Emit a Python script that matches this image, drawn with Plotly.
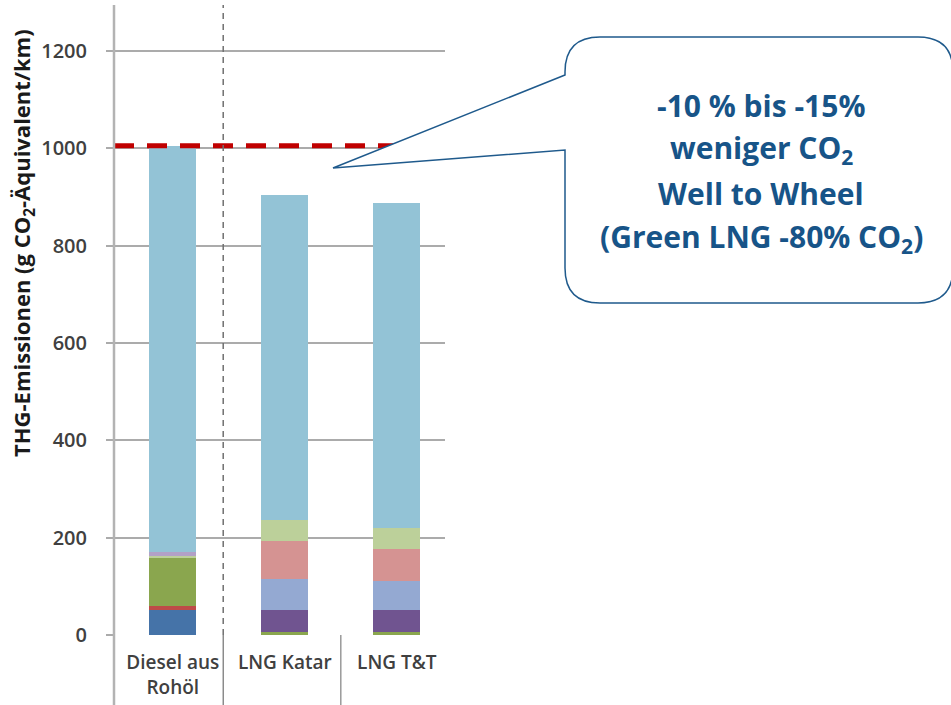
import plotly.graph_objects as go

# ---- data ----
categories = ["Diesel aus<br>Rohöl", "LNG Katar", "LNG T&T"]
seg_dark_blue = [51, 0, 0]
seg_red = [9, 0, 0]
seg_green = [98, 6, 6]
seg_purple = [0, 45, 45]
seg_blue = [0, 64, 60]
seg_pink = [0, 78, 66]
seg_light_green = [5, 44, 43]
seg_lavender = [8, 0, 0]
seg_light_blue = [833, 666, 667]
reference_level = 1005
y_ticks = [0, 200, 400, 600, 800, 1000, 1200]
y_title = "THG-Emissionen (g CO<sub>2</sub>-Äquivalent/km)"
callout_lines = ["-10 % bis -15%", "weniger CO<sub>2</sub>", "Well to Wheel",
                 "(Green LNG -80% CO<sub>2</sub>)"]

series = [
    ("Segment 1", seg_dark_blue, "#4573A8"),
    ("Segment 2", seg_red, "#BE4B48"),
    ("Segment 3", seg_green, "#8AA64E"),
    ("Segment 4", seg_purple, "#705490"),
    ("Segment 5", seg_blue, "#94A9D2"),
    ("Segment 6", seg_pink, "#D59392"),
    ("Segment 7", seg_light_green, "#BCD09A"),
    ("Segment 8", seg_lavender, "#B2A1C7"),
    ("Segment 9", seg_light_blue, "#93C3D6"),
]

W, H = 951, 705
L, R, T, B = 114, 445, 5, 635


def px(x):
    return (x - L) / (R - L)


def py(y):
    return (B - y) / (B - T)


fig = go.Figure()
for name, vals, col in series:
    fig.add_trace(go.Bar(x=categories, y=vals, name=name, width=0.42,
                         marker=dict(color=col, line=dict(width=0))))

grid = "#ABABAB"
shapes = []
# reference dashed red line
shapes.append(dict(type="line", xref="paper", yref="y", x0=0, x1=1,
                   y0=reference_level, y1=reference_level,
                   line=dict(color="#C00000", width=5, dash="20px,13px"), layer="above"))
# vertical axis line extended below
shapes.append(dict(type="line", xref="paper", yref="paper", x0=0, x1=0,
                   y0=py(705), y1=1, line=dict(color="#B3B3B3", width=2.5), layer="above"))
# category separators
shapes.append(dict(type="line", xref="x", yref="paper", x0=0.45, x1=0.45,
                   y0=0, y1=1, line=dict(color="#707070", width=1.5, dash="6px,5px"), layer="above"))
shapes.append(dict(type="line", xref="x", yref="paper", x0=0.45, x1=0.45,
                   y0=py(705), y1=0, line=dict(color="#707070", width=1.2), layer="above"))
shapes.append(dict(type="line", xref="x", yref="paper", x0=1.5, x1=1.5,
                   y0=py(705), y1=0, line=dict(color="#808080", width=1.2), layer="above"))

# callout balloon
r = 35
xl, xr, yt, yb = 565, 953, 37, 303
path = f"M {px(xl)},{py(75)} L {px(333)},{py(168)} L {px(xl)},{py(150)} L {px(xl)},{py(yb - r)} "
path += f"Q {px(xl)},{py(yb)} {px(xl + r)},{py(yb)} L {px(xr - r)},{py(yb)} "
path += f"Q {px(xr)},{py(yb)} {px(xr)},{py(yb - r)} L {px(xr)},{py(yt + r)} "
path += f"Q {px(xr)},{py(yt)} {px(xr - r)},{py(yt)} L {px(xl + r)},{py(yt)} "
path += f"Q {px(xl)},{py(yt)} {px(xl)},{py(yt + r)} Z"
shapes.append(dict(type="path", xref="paper", yref="paper", path=path,
                   fillcolor="white", line=dict(color="#1F5A8C", width=1.5), layer="above"))

annotations = []
line_y = [105, 149, 193, 238]
for txt, yy in zip(callout_lines, line_y):
    annotations.append(dict(text=txt, xref="paper", yref="paper", x=px(761), y=py(yy),
                            xanchor="center", yanchor="middle", showarrow=False,
                            font=dict(family="Open Sans", size=30, color="#175488", weight="bold")))

# y-axis title as rotated annotation (placed off-centre like the reference)
annotations.append(dict(text=y_title, xref="paper", yref="paper", x=px(23), y=py(243),
                        xanchor="center", yanchor="middle", showarrow=False, textangle=-90,
                        font=dict(family="Open Sans", size=22, color="#1a1a1a", weight="bold")))

fig.update_layout(
    width=W, height=H,
    margin=dict(l=L, r=W - R, t=T, b=H - B, autoexpand=False),
    paper_bgcolor="white", plot_bgcolor="white",
    barmode="stack", showlegend=False,
    shapes=shapes, annotations=annotations,
    font=dict(family="Open Sans", color="#404040"),
)
fig.update_xaxes(type="category", range=[-0.525, 2.43], showgrid=False, showline=False,
                 zeroline=False, ticks="", ticklabelstandoff=14,
                 tickfont=dict(size=19, color="#404040", weight=600))
fig.update_yaxes(range=[0, 1294], tickvals=y_ticks, showgrid=True, gridcolor=grid, gridwidth=2,
                 zeroline=False, showline=False, ticks="outside", ticklen=7, tickcolor=grid,
                 tickwidth=2, ticklabelstandoff=15,
                 tickfont=dict(size=20, color="#404040", weight=600))

fig.write_html("out.html")
